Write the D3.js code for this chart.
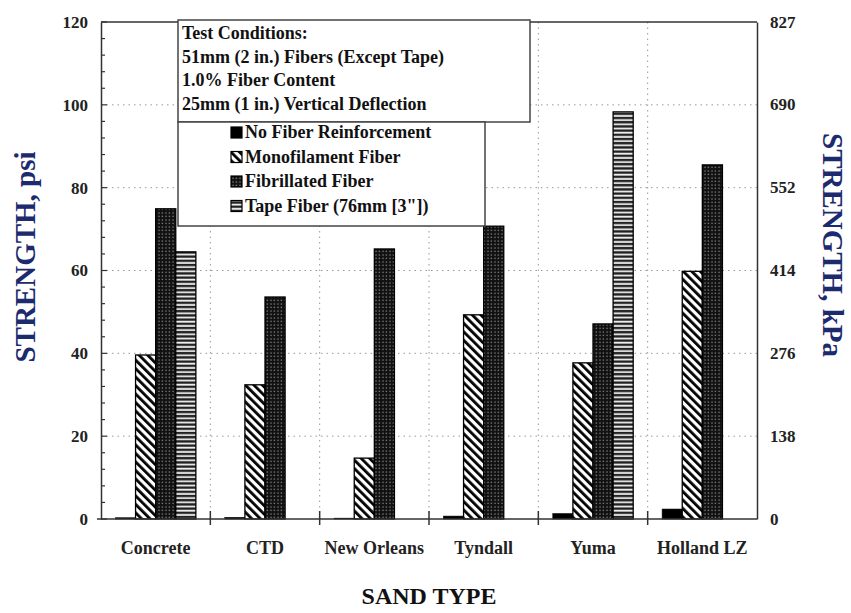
<!DOCTYPE html>
<html>
<head>
<meta charset="utf-8">
<script src="https://cdn.jsdelivr.net/npm/d3@7"></script>
<style>
  body { margin: 0; background: #fff; }
  text { font-family: "Liberation Serif", "Times New Roman", serif; font-weight: bold; }
</style>
</head>
<body>
<div id="chart"></div>
<script>
// sand types and series
const categories = ["Concrete", "CTD", "New Orleans", "Tyndall", "Yuma", "Holland LZ"];
const seriesNames = ["No Fiber Reinforcement", "Monofilament Fiber", "Fibrillated Fiber", "Tape Fiber (76mm [3\"])"];
const noFiber = [0.3, 0.4, 0.2, 0.7, 1.3, 2.4];
const mono = [39.6, 32.4, 14.7, 49.3, 37.7, 59.8];
const fibrillated = [74.9, 53.6, 65.2, 70.7, 47.1, 85.5];
const tape = [64.5, null, null, null, 98.3, null];
const psiTicks = [0, 20, 40, 60, 80, 100, 120];
const kpaTicks = [0, 138, 276, 414, 552, 690, 827];
const conditions = ["Test Conditions:", "51mm (2 in.) Fibers (Except Tape)", "1.0% Fiber Content", "25mm (1 in.) Vertical Deflection"];

const width = 851, height = 613;
const margin = {left: 101, right: 94, top: 22, bottom: 94};
const plotW = width - margin.left - margin.right;
const plotH = height - margin.top - margin.bottom;

const svg = d3.select("#chart").append("svg")
    .attr("width", width)
    .attr("height", height);

// patterns
const defs = svg.append("defs");
const pMono = defs.append("pattern").attr("id", "mono")
    .attr("patternUnits", "userSpaceOnUse").attr("width", 6).attr("height", 6)
    .attr("patternTransform", "rotate(-45)");
pMono.append("rect").attr("width", 6).attr("height", 6).attr("fill", "#fff");
pMono.append("rect").attr("width", 2.8).attr("height", 6).attr("fill", "#000");

const pFib = defs.append("pattern").attr("id", "fib")
    .attr("patternUnits", "userSpaceOnUse").attr("width", 3.5).attr("height", 3.5);
pFib.append("rect").attr("width", 3.5).attr("height", 3.5).attr("fill", "#111");
pFib.append("rect").attr("x", 1.4).attr("y", 1.4).attr("width", 1.1).attr("height", 1.1).attr("fill", "#bbb");

const pTape = defs.append("pattern").attr("id", "tape")
    .attr("patternUnits", "userSpaceOnUse").attr("width", 4).attr("height", 4.2);
pTape.append("rect").attr("width", 4).attr("height", 4.2).attr("fill", "#222");
pTape.append("rect").attr("y", 0.6).attr("width", 4).attr("height", 1.8).attr("fill", "#eee");

const fills = ["#000", "url(#mono)", "url(#fib)", "url(#tape)"];
const seriesData = [noFiber, mono, fibrillated, tape];

const g = svg.append("g").attr("transform", `translate(${margin.left},${margin.top})`);

const x0 = d3.scaleBand().domain(categories).range([0, plotW]).padding(0);
const x1 = d3.scaleBand().domain(d3.range(4)).range([0, x0.bandwidth()]).paddingOuter(0.72);
const y = d3.scaleLinear().domain([0, 120]).range([plotH, 0]);
const y2 = d3.scaleLinear().domain([0, 120 * 6.895]).range([plotH, 0]);

// gridlines
g.append("g").selectAll("line")
    .data(psiTicks.filter(t => t > 0 && t < 120))
    .join("line")
    .attr("x1", 0).attr("x2", plotW)
    .attr("y1", d => y(d)).attr("y2", d => y(d))
    .attr("stroke", "#999").attr("stroke-width", 1).attr("stroke-dasharray", "1.5,4");
g.append("g").selectAll("line")
    .data(categories.slice(1))
    .join("line")
    .attr("x1", d => x0(d)).attr("x2", d => x0(d))
    .attr("y1", 0).attr("y2", plotH)
    .attr("stroke", "#999").attr("stroke-width", 1).attr("stroke-dasharray", "1.5,4");

// bars
const rows = [];
categories.forEach((c, i) => {
  seriesData.forEach((s, j) => {
    if (s[i] != null) rows.push({cat: c, s: j, v: s[i]});
  });
});
g.append("g").selectAll("rect")
    .data(rows)
    .join("rect")
    .attr("x", d => x0(d.cat) + x1(d.s))
    .attr("y", d => y(d.v))
    .attr("width", x1.bandwidth())
    .attr("height", d => y(0) - y(d.v))
    .attr("fill", d => fills[d.s])
    .attr("stroke", "#000")
    .attr("stroke-width", d => d.s === 0 ? 0.6 : 1.3);

// frame
g.append("line").attr("x1", 0).attr("x2", plotW).attr("y1", 0).attr("y2", 0)
    .attr("stroke", "#333").attr("stroke-width", 1.5);

// left axis
const yAxis = d3.axisLeft(y).tickValues(psiTicks).tickSize(0).tickPadding(13);
const ga = g.append("g").call(yAxis);
ga.select(".domain").attr("stroke", "#333").attr("stroke-width", 1.5);
ga.selectAll("text").attr("font-size", 17).attr("fill", "#222")
    .style("font-family", "'Liberation Serif', serif").style("font-weight", "bold");
// inner minor ticks
g.append("g").selectAll("line")
    .data(d3.range(0, 121, 4))
    .join("line")
    .attr("x1", 0).attr("x2", d => d % 20 === 0 ? 6 : 4)
    .attr("y1", d => y(d)).attr("y2", d => y(d))
    .attr("stroke", "#333").attr("stroke-width", 1.2);

// right axis
const yAxis2 = d3.axisRight(y2).tickValues(kpaTicks).tickSize(0).tickPadding(13);
const gr = g.append("g").attr("transform", `translate(${plotW},0)`).call(yAxis2);
gr.select(".domain").attr("stroke", "#333").attr("stroke-width", 1.5);
gr.selectAll("text").attr("font-size", 17).attr("fill", "#222")
    .style("font-family", "'Liberation Serif', serif").style("font-weight", "bold");

// bottom axis
g.append("line").attr("x1", -4).attr("x2", plotW).attr("y1", plotH).attr("y2", plotH)
    .attr("stroke", "#333").attr("stroke-width", 1.5);
g.append("g").selectAll("line")
    .data(categories.slice(1))
    .join("line")
    .attr("x1", d => x0(d)).attr("x2", d => x0(d))
    .attr("y1", plotH - 8).attr("y2", plotH + 6)
    .attr("stroke", "#333").attr("stroke-width", 1.5);
g.append("g").selectAll("text")
    .data(categories)
    .join("text")
    .attr("x", d => x0(d) + x0.bandwidth() / 2)
    .attr("y", plotH + 35)
    .attr("text-anchor", "middle")
    .attr("font-size", 18)
    .attr("fill", "#222")
    .text(d => d);

// axis titles
svg.append("text")
    .attr("transform", "translate(35,257) rotate(-90)")
    .attr("text-anchor", "middle")
    .attr("font-size", 29)
    .attr("fill", "#1c2a6e")
    .text("STRENGTH, psi");
svg.append("text")
    .attr("transform", "translate(823,245) rotate(90)")
    .attr("text-anchor", "middle")
    .attr("font-size", 29)
    .attr("fill", "#1c2a6e")
    .text("STRENGTH, kPa");
svg.append("text")
    .attr("x", margin.left + plotW / 2)
    .attr("y", 604)
    .attr("text-anchor", "middle")
    .attr("font-size", 24)
    .attr("fill", "#111")
    .text("SAND TYPE");

// test conditions box
const box = svg.append("g");
box.append("rect").attr("x", 178).attr("y", 20).attr("width", 352).attr("height", 102)
    .attr("fill", "#fff").attr("stroke", "#444").attr("stroke-width", 1.5);
box.selectAll("text.cond")
    .data(conditions)
    .join("text")
    .attr("class", "cond")
    .attr("x", 182)
    .attr("y", (d, i) => 39 + i * 23.7)
    .attr("font-size", 18)
    .attr("fill", "#111")
    .text(d => d);

// legend box
const leg = svg.append("g");
leg.append("rect").attr("x", 178).attr("y", 122).attr("width", 307).attr("height", 104)
    .attr("fill", "#fff").attr("stroke", "#444").attr("stroke-width", 1.5);
const items = leg.selectAll("g.item")
    .data(seriesNames)
    .join("g")
    .attr("class", "item")
    .attr("transform", (d, i) => `translate(231,${138 + i * 24.5})`);
items.append("rect")
    .attr("y", -11)
    .attr("width", 11).attr("height", 11)
    .attr("fill", (d, i) => fills[i])
    .attr("stroke", "#000").attr("stroke-width", 1.2);
items.append("text")
    .attr("x", 14).attr("y", 0)
    .attr("font-size", 18)
    .attr("fill", "#111")
    .text(d => d);
</script>
</body>
</html>
